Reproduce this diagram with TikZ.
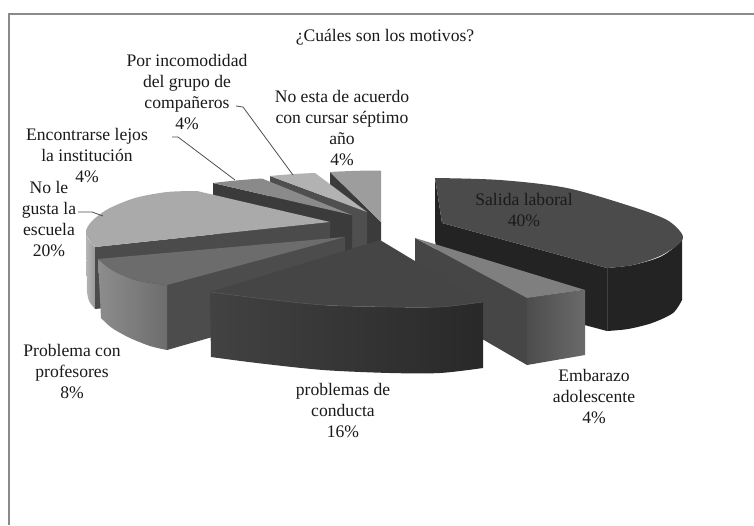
\documentclass[tikz,border=0pt]{standalone}
\usepackage{fontspec}
\setmainfont{Liberation Serif}
\definecolor{frame}{HTML}{8A8A8A}
\definecolor{txt}{HTML}{1A1A1A}
\definecolor{ldr}{HTML}{505050}
\definecolor{slT}{HTML}{4B4B4B}\definecolor{slS}{HTML}{232323}
\definecolor{emT}{HTML}{7F7F7F}\definecolor{emF}{HTML}{5A5A5A}\definecolor{emR}{HTML}{464646}
\definecolor{coT}{HTML}{454545}\definecolor{coF}{HTML}{2D2D2D}
\definecolor{prT}{HTML}{6C6C6C}\definecolor{prF}{HTML}{808080}\definecolor{prR}{HTML}{4C4C4C}
\definecolor{ngT}{HTML}{AAAAAA}\definecolor{ngF}{HTML}{B5B5B5}\definecolor{ngR}{HTML}{4B4B4B}
\definecolor{enT}{HTML}{8A8A8A}\definecolor{enR}{HTML}{3B3B3B}
\definecolor{piT}{HTML}{B2B2B2}\definecolor{piR}{HTML}{4F4F4F}
\definecolor{neT}{HTML}{9D9D9D}\definecolor{neR}{HTML}{3B3B3B}
\definecolor{edge}{HTML}{5E5E5E}
\begin{document}
\begin{tikzpicture}[x=1pt,y=-1pt,
  lbl/.style={font=\fontsize{17.6}{21}\selectfont, text=txt, align=center, inner sep=0pt},
  leader/.style={draw=ldr, line width=0.8pt},
  frameline/.style={draw=frame, line width=1.4pt},
  faceedge/.style={draw=edge, line width=0.4pt}]
\path[use as bounding box] (0,0) rectangle (754,525);
\fill[white] (0,0) rectangle (754,525);
\draw[frameline] (9,525) -- (9,14) -- (754,14);

% No esta de acuerdo
\fill[neR] (330,172) -- (381,222) -- (381,272) -- (330,222) -- cycle;
\fill[neT] (330,172) .. controls (347,171) and (364,170.5) .. (381,170.5) -- (381,222) -- cycle;
% Por incomodidad
\fill[piR] (270,176) -- (367,212) -- (367,272) -- (270,226) -- cycle;
\fill[piT] (270,176) .. controls (285,174.5) and (300,173.5) .. (315,173) -- (367,212) -- cycle;
% Encontrarse lejos
\fill[enR] (213,183) -- (352,215) -- (352,275) -- (213,235) -- cycle;
\fill[enT] (213,183) .. controls (229,181) and (246,179.5) .. (262,178.5) -- (352,215) -- cycle;

% Salida laboral
\fill[slS] (435,178) -- (442,223) -- (442,287) -- (435,240) -- cycle;
\fill[slS] (442,223) -- (607,268) -- (607,331) -- (442,287) -- cycle;
\fill[slS] (607,268) -- plot[smooth] coordinates {(607,268) (633,265) (660,257) (677,245) (682,235)} -- (682,300) -- plot[smooth] coordinates {(682,300) (673,313) (652,323) (628,329) (607,331)} -- cycle;
\draw[draw=black!75, line width=0.4pt] (607,268) -- (607,331);
\fill[slT] (435,178) -- plot[smooth] coordinates {(435,178) (500,180) (567,188) (633,207) (667,220) (682,234) (680,243) (660,256) (633,265) (607,268)} -- (442,223) -- cycle;

% No le gusta la escuela
\shade[left color=ngF, right color=ngF!85!black] (86,229) -- plot[smooth] coordinates {(86,229) (88,239) (95,247)} -- (95,309) -- plot[smooth] coordinates {(95,309) (89,301) (87,292)} -- cycle;
\fill[ngR] (95,247) -- (330,222) -- (330,284) -- (95,309) -- cycle;
\fill[ngT] (197,191) -- plot[smooth] coordinates {(197,191) (167,192) (135,198) (108,209) (92,221) (86,231) (89,240) (95,247)} -- (330,222) -- cycle;

% Problema con profesores
\fill[prR] (167,285) -- (345,237) -- (345,299) -- (167,350) -- cycle;
\shade[left color=prF!90!white, right color=prF!85!black] (98,259) -- plot[smooth] coordinates {(98,259) (112,270) (132,279) (150,283) (167,285)} -- (167,350) -- plot[smooth] coordinates {(167,350) (150,346) (130,338) (112,328) (101,318)} -- cycle;
\fill[prT] (345,237) -- (98,259) -- plot[smooth] coordinates {(98,259) (112,270) (132,279) (150,283) (167,285)} -- cycle;

% Embarazo adolescente
\fill[emR] (415,238) -- (527,298) -- (527,365) -- (415,300) -- cycle;
\shade[left color=emF!85!black, right color=emF!90!white] (527,298) -- (585,290) -- (585,355) -- (527,365) -- cycle;
\fill[emT] (415,238) -- (585,290) -- (527,298) -- cycle;

% problemas de conducta
\shade[left color=coF!90!white, right color=coF!90!black] (210,292) -- plot[smooth] coordinates {(210,292) (257,298) (323,305) (390,307) (440,307) (483,302)} -- (483,368) -- plot[smooth] coordinates {(483,368) (440,373) (390,373) (323,370) (257,363) (211,357)} -- cycle;
\fill[coT] (380,240) -- (210,292) -- plot[smooth] coordinates {(210,292) (257,298) (323,305) (390,307) (440,307) (483,302)} -- cycle;
\draw[faceedge] plot[smooth] coordinates {(210,292) (257,298) (323,305) (390,307) (440,307) (483,302)};

% labels
\node[lbl] (title) at (385,37) {¿Cuáles son los motivos?};
\node[lbl] (lpi) at (187,92.5) {Por incomodidad\\del grupo de\\compañeros\\4\%};
\node[lbl] (lne) at (342,128) {No esta de acuerdo\\con cursar séptimo\\año\\4\%};
\node[lbl] (len) at (87,156) {Encontrarse lejos\\la institución\\4\%};
\node[lbl] (lng) at (49,219.5) {No le\\gusta la\\escuela\\20\%};
\node[lbl] (lpr) at (72,372) {Problema con\\profesores\\8\%};
\node[lbl] (lco) at (343,411) {problemas de\\conducta\\16\%};
\node[lbl] (lem) at (594,397) {Embarazo\\adolescente\\4\%};
\node[lbl] (lsl) at (524,210.5) {Salida laboral\\40\%};

% leaders
\coordinate (piA) at (236,106); \coordinate (piB) at (243,107); \coordinate (piC) at (293,175);
\draw[leader] (piA) -- (piB) -- (piC);
\coordinate (enA) at (172,137); \coordinate (enB) at (178,137); \coordinate (enC) at (235,180);
\draw[leader] (enA) -- (enB) -- (enC);
\coordinate (ngA) at (78,212); \coordinate (ngB) at (92,212); \coordinate (ngC) at (103,216);
\draw[leader] (ngA) -- (ngB) -- (ngC);
\end{tikzpicture}
\end{document}
